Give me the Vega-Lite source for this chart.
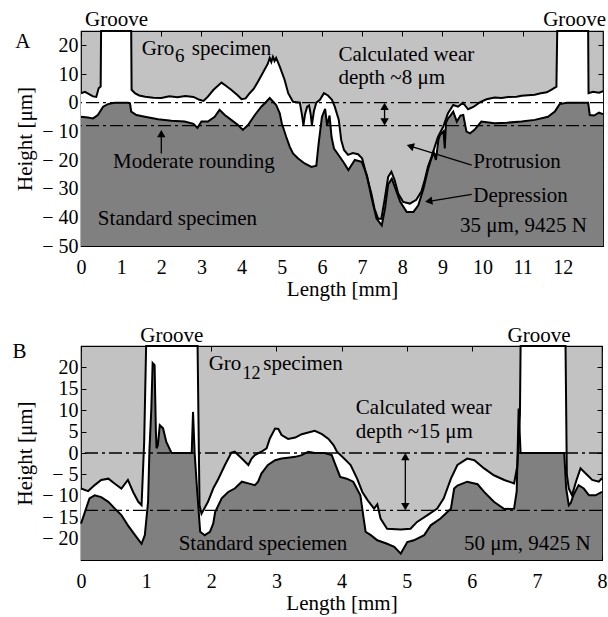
{
  "$schema": "https://vega.github.io/schema/vega-lite/v6.json",
  "background": "white",
  "padding": {"left": 12, "top": 8, "right": 2, "bottom": 2},
  "config": {
    "font": "Liberation Serif",
    "view": {"stroke": "black", "strokeWidth": 1.2, "fill": "#c2c2c2"},
    "axis": {
      "domain": false, "grid": false, "ticks": true, "tickColor": "black", "tickSize": -5, "tickWidth": 1,
      "labelFont": "Liberation Serif", "labelFontSize": 20, "labelColor": "black", "labelFlush": false, "labelOverlap": false,
      "titleFont": "Liberation Serif", "titleFontSize": 21, "titleFontWeight": "normal", "titleColor": "black"
    },
    "axisBottom": {"labelPadding": 16, "titlePadding": 1},
    "axisLeft": {"labelPadding": 8, "titlePadding": 6, "labelFontSize": 20, "labelExpr": "replace(datum.label, '−', '− ')"}
  },
  "datasets": {
    "a_gro": [
      {"x": 0, "h": 3.3}, {"x": 0.1, "h": 3.8}, {"x": 0.2, "h": 3.0}, {"x": 0.3, "h": 2.2}, {"x": 0.38, "h": 2.0}, {"x": 0.44, "h": 5.0}, {"x": 0.49, "h": 5.6},
      {"x": 0.5, "h": 25}, {"x": 1.25, "h": 25}, {"x": 1.26, "h": 4.5}, {"x": 1.35, "h": 3.2}, {"x": 1.45, "h": 2.5}, {"x": 1.6, "h": 2.1}, {"x": 1.8, "h": 1.7},
      {"x": 2.0, "h": 1.6}, {"x": 2.2, "h": 2.2}, {"x": 2.4, "h": 1.9}, {"x": 2.6, "h": 2.3}, {"x": 2.8, "h": 2.0}, {"x": 2.95, "h": 1.0}, {"x": 3.05, "h": 0.6},
      {"x": 3.16, "h": 2.1}, {"x": 3.3, "h": 4.5}, {"x": 3.5, "h": 7.0}, {"x": 3.6, "h": 6.0}, {"x": 3.74, "h": 4.5}, {"x": 3.9, "h": 2.6}, {"x": 4.0, "h": 1.2},
      {"x": 4.1, "h": 1.5}, {"x": 4.2, "h": 3.3}, {"x": 4.3, "h": 4.8}, {"x": 4.41, "h": 7.4}, {"x": 4.57, "h": 11.5}, {"x": 4.65, "h": 13.5}, {"x": 4.7, "h": 15.6},
      {"x": 4.74, "h": 14.2}, {"x": 4.78, "h": 16.0}, {"x": 4.82, "h": 14.5}, {"x": 4.86, "h": 15.6}, {"x": 4.95, "h": 12.6}, {"x": 5.07, "h": 8.0}, {"x": 5.16, "h": 3.3},
      {"x": 5.28, "h": 0.3}, {"x": 5.45, "h": 0}, {"x": 5.5, "h": -4}, {"x": 5.54, "h": -7.8}, {"x": 5.58, "h": -4}, {"x": 5.63, "h": -1.5}, {"x": 5.68, "h": -1},
      {"x": 5.72, "h": -4}, {"x": 5.75, "h": -7.8}, {"x": 5.8, "h": -3}, {"x": 5.86, "h": 0}, {"x": 5.95, "h": 1.0}, {"x": 6.05, "h": 3.3}, {"x": 6.15, "h": 2.5},
      {"x": 6.25, "h": 1.0}, {"x": 6.32, "h": -1.4}, {"x": 6.42, "h": -6}, {"x": 6.48, "h": -13}, {"x": 6.55, "h": -16.5}, {"x": 6.65, "h": -18.2}, {"x": 6.77, "h": -17.6},
      {"x": 6.9, "h": -18}, {"x": 7.0, "h": -19.4}, {"x": 7.1, "h": -24.7}, {"x": 7.23, "h": -31.7}, {"x": 7.31, "h": -37}, {"x": 7.4, "h": -40.5}, {"x": 7.48, "h": -40.5},
      {"x": 7.56, "h": -33.9}, {"x": 7.65, "h": -25.9}, {"x": 7.73, "h": -24.1}, {"x": 7.81, "h": -27}, {"x": 7.9, "h": -31.7}, {"x": 8.02, "h": -34.6}, {"x": 8.19, "h": -35.2},
      {"x": 8.35, "h": -33.9}, {"x": 8.48, "h": -30.9}, {"x": 8.56, "h": -27}, {"x": 8.64, "h": -22.4}, {"x": 8.73, "h": -18.9}, {"x": 8.81, "h": -15.4}, {"x": 8.89, "h": -11.9},
      {"x": 9.02, "h": -8.4}, {"x": 9.14, "h": -3.7}, {"x": 9.27, "h": -0.8}, {"x": 9.39, "h": -1.4}, {"x": 9.51, "h": 0}, {"x": 9.64, "h": -2.3}, {"x": 9.77, "h": -1.5},
      {"x": 9.94, "h": 0.2}, {"x": 10.1, "h": 1.2}, {"x": 10.3, "h": 1.8}, {"x": 10.47, "h": 1.6}, {"x": 10.64, "h": 2.0}, {"x": 10.85, "h": 2.1}, {"x": 10.97, "h": 2.4},
      {"x": 11.3, "h": 2.8}, {"x": 11.45, "h": 3.3}, {"x": 11.6, "h": 3.6}, {"x": 11.71, "h": 4.5}, {"x": 11.84, "h": 5.6}, {"x": 11.86, "h": 25}, {"x": 12.63, "h": 25},
      {"x": 12.64, "h": 3.3}, {"x": 12.75, "h": 3.8}, {"x": 12.9, "h": 3.5}, {"x": 13.0, "h": 4.0}
    ],
    "a_std": [
      {"x": 0, "h": -4.9}, {"x": 0.17, "h": -5.2}, {"x": 0.3, "h": -5.5}, {"x": 0.42, "h": -4.3}, {"x": 0.55, "h": -1.4}, {"x": 0.67, "h": -0.5}, {"x": 0.84, "h": 0},
      {"x": 1.17, "h": 0}, {"x": 1.22, "h": -0.2}, {"x": 1.25, "h": -3.1}, {"x": 1.38, "h": -4.3}, {"x": 1.59, "h": -4.9}, {"x": 1.92, "h": -5.8}, {"x": 2.25, "h": -6.3},
      {"x": 2.58, "h": -6.6}, {"x": 2.8, "h": -7.4}, {"x": 2.9, "h": -8.8}, {"x": 3.0, "h": -6.6}, {"x": 3.16, "h": -6.6}, {"x": 3.33, "h": -4.9}, {"x": 3.45, "h": -2.5},
      {"x": 3.58, "h": -4.3}, {"x": 3.74, "h": -6.0}, {"x": 3.91, "h": -7.8}, {"x": 4.03, "h": -9.5}, {"x": 4.16, "h": -7.8}, {"x": 4.33, "h": -4.3}, {"x": 4.49, "h": -1.4},
      {"x": 4.62, "h": 0.4}, {"x": 4.7, "h": 1.6}, {"x": 4.78, "h": 0.4}, {"x": 4.86, "h": -0.8}, {"x": 4.95, "h": -3.7}, {"x": 5.0, "h": -7.2}, {"x": 5.11, "h": -11.9},
      {"x": 5.2, "h": -15.4}, {"x": 5.28, "h": -17.7}, {"x": 5.4, "h": -19.4}, {"x": 5.57, "h": -21.2}, {"x": 5.74, "h": -22.4}, {"x": 5.86, "h": -22.0}, {"x": 5.92, "h": -14},
      {"x": 6.0, "h": -5}, {"x": 6.08, "h": -2.2}, {"x": 6.13, "h": -8}, {"x": 6.19, "h": -4.5}, {"x": 6.24, "h": -12}, {"x": 6.3, "h": -16}, {"x": 6.4, "h": -18},
      {"x": 6.53, "h": -20.6}, {"x": 6.66, "h": -23.5}, {"x": 6.75, "h": -21.5}, {"x": 6.82, "h": -20}, {"x": 6.99, "h": -20.6}, {"x": 7.12, "h": -25.3}, {"x": 7.24, "h": -33.4},
      {"x": 7.36, "h": -40.4}, {"x": 7.49, "h": -42.8}, {"x": 7.57, "h": -37}, {"x": 7.65, "h": -28.5}, {"x": 7.74, "h": -26.5}, {"x": 7.86, "h": -31.1}, {"x": 7.95, "h": -34.6},
      {"x": 8.11, "h": -38.1}, {"x": 8.28, "h": -38.1}, {"x": 8.4, "h": -35.8}, {"x": 8.53, "h": -29.9}, {"x": 8.65, "h": -22.9}, {"x": 8.78, "h": -17.1}, {"x": 8.84, "h": -20},
      {"x": 8.9, "h": -13}, {"x": 8.94, "h": -11.3}, {"x": 9.03, "h": -10}, {"x": 9.06, "h": -16}, {"x": 9.09, "h": -7}, {"x": 9.14, "h": -5.5}, {"x": 9.2, "h": -4.5},
      {"x": 9.27, "h": -3.1}, {"x": 9.36, "h": -6.6}, {"x": 9.45, "h": -4.5}, {"x": 9.52, "h": -4.3}, {"x": 9.6, "h": -10.1}, {"x": 9.69, "h": -10.7}, {"x": 9.8, "h": -9.5},
      {"x": 9.97, "h": -6.6}, {"x": 10.3, "h": -7.2}, {"x": 10.6, "h": -7.0}, {"x": 10.97, "h": -6.6}, {"x": 11.3, "h": -6.0}, {"x": 11.63, "h": -4.9}, {"x": 11.8, "h": -3.1},
      {"x": 11.92, "h": -0.5}, {"x": 12.1, "h": 0}, {"x": 12.63, "h": 0}, {"x": 12.67, "h": -4.3}, {"x": 12.78, "h": -4.5}, {"x": 12.9, "h": -3.5}, {"x": 13.0, "h": -4.0}
    ],
    "b_gro": [
      {"x": 0, "h": -8.3}, {"x": 0.11, "h": -8.9}, {"x": 0.21, "h": -7.5}, {"x": 0.31, "h": -6.3}, {"x": 0.42, "h": -6.0}, {"x": 0.52, "h": -7.2}, {"x": 0.62, "h": -8.3},
      {"x": 0.72, "h": -6.3}, {"x": 0.8, "h": -9.1}, {"x": 0.88, "h": -11.4}, {"x": 0.93, "h": -12.2}, {"x": 0.97, "h": 2.6}, {"x": 1.0, "h": 25}, {"x": 1.79, "h": 25},
      {"x": 1.82, "h": -12.2}, {"x": 1.85, "h": -14.2}, {"x": 1.95, "h": -11.4}, {"x": 2.03, "h": -8.3}, {"x": 2.11, "h": -6.0}, {"x": 2.21, "h": -2.8}, {"x": 2.31, "h": 0.1},
      {"x": 2.36, "h": 0.3}, {"x": 2.47, "h": -1.3}, {"x": 2.57, "h": -2.8}, {"x": 2.62, "h": -1.3}, {"x": 2.67, "h": -0.5}, {"x": 2.77, "h": 0.3}, {"x": 2.85, "h": 1.1},
      {"x": 2.9, "h": 3.4}, {"x": 2.98, "h": 5.7}, {"x": 3.03, "h": 5.6}, {"x": 3.08, "h": 4.2}, {"x": 3.18, "h": 3.3}, {"x": 3.29, "h": 3.6}, {"x": 3.39, "h": 4.4},
      {"x": 3.49, "h": 4.8}, {"x": 3.59, "h": 5.2}, {"x": 3.7, "h": 4.4}, {"x": 3.8, "h": 3.3}, {"x": 3.88, "h": 1.8}, {"x": 3.93, "h": 0.3}, {"x": 4.04, "h": -1.3},
      {"x": 4.14, "h": -2.8}, {"x": 4.24, "h": -6.0}, {"x": 4.32, "h": -9.1}, {"x": 4.4, "h": -11.0}, {"x": 4.5, "h": -13.0}, {"x": 4.55, "h": -12.0}, {"x": 4.6, "h": -15.3},
      {"x": 4.7, "h": -17.7}, {"x": 4.91, "h": -17.9}, {"x": 5.06, "h": -17.7}, {"x": 5.16, "h": -16.1}, {"x": 5.32, "h": -14.5}, {"x": 5.47, "h": -13.0}, {"x": 5.57, "h": -10.6},
      {"x": 5.68, "h": -6.0}, {"x": 5.78, "h": -2.8}, {"x": 5.93, "h": -1.3}, {"x": 6.04, "h": -1.7}, {"x": 6.19, "h": -3.6}, {"x": 6.34, "h": -5.2}, {"x": 6.5, "h": -6.3},
      {"x": 6.65, "h": -7.1}, {"x": 6.7, "h": -3}, {"x": 6.74, "h": 9}, {"x": 6.75, "h": 25}, {"x": 7.44, "h": 25}, {"x": 7.46, "h": -5}, {"x": 7.49, "h": -8.3},
      {"x": 7.54, "h": -9.9}, {"x": 7.6, "h": -6.7}, {"x": 7.67, "h": -3.6}, {"x": 7.75, "h": -4.8}, {"x": 7.85, "h": -6.3}, {"x": 7.95, "h": -6.7}, {"x": 8.0, "h": -5.9}
    ],
    "b_std": [
      {"x": 0, "h": -16.5}, {"x": 0.06, "h": -13.8}, {"x": 0.13, "h": -10.6}, {"x": 0.21, "h": -9.9}, {"x": 0.31, "h": -10.3}, {"x": 0.42, "h": -11.4}, {"x": 0.52, "h": -13.0},
      {"x": 0.62, "h": -14.5}, {"x": 0.72, "h": -16.9}, {"x": 0.83, "h": -19.2}, {"x": 0.93, "h": -21.2}, {"x": 0.98, "h": -19.2}, {"x": 1.03, "h": -11.4}, {"x": 1.05, "h": 0.3},
      {"x": 1.08, "h": 10.4}, {"x": 1.1, "h": 21.0}, {"x": 1.13, "h": 20.5}, {"x": 1.15, "h": 5}, {"x": 1.16, "h": 1.1}, {"x": 1.18, "h": 1.8}, {"x": 1.21, "h": 6.5},
      {"x": 1.26, "h": 5.8}, {"x": 1.31, "h": 2.6}, {"x": 1.39, "h": 0}, {"x": 1.7, "h": 0}, {"x": 1.72, "h": 9.6}, {"x": 1.745, "h": 0}, {"x": 1.78, "h": -8},
      {"x": 1.83, "h": -18.4}, {"x": 1.9, "h": -19.2}, {"x": 1.98, "h": -18.4}, {"x": 2.03, "h": -16.5}, {"x": 2.06, "h": -13.8}, {"x": 2.16, "h": -10.6}, {"x": 2.26, "h": -9.1},
      {"x": 2.36, "h": -8.3}, {"x": 2.47, "h": -6.7}, {"x": 2.57, "h": -7.1}, {"x": 2.67, "h": -7.5}, {"x": 2.72, "h": -6.7}, {"x": 2.77, "h": -4.8}, {"x": 2.87, "h": -2.8},
      {"x": 2.98, "h": -1.7}, {"x": 3.08, "h": -1.3}, {"x": 3.18, "h": -1.1}, {"x": 3.29, "h": -0.9}, {"x": 3.39, "h": -0.5}, {"x": 3.49, "h": 0.3}, {"x": 3.59, "h": 0},
      {"x": 3.74, "h": 0}, {"x": 3.85, "h": -0.5}, {"x": 3.9, "h": -2.5}, {"x": 3.98, "h": -5.6}, {"x": 4.08, "h": -6.0}, {"x": 4.18, "h": -6.7}, {"x": 4.29, "h": -9.9},
      {"x": 4.34, "h": -15.3}, {"x": 4.37, "h": -18.4}, {"x": 4.45, "h": -19.2}, {"x": 4.55, "h": -20.4}, {"x": 4.7, "h": -21.2}, {"x": 4.81, "h": -21.9}, {"x": 4.91, "h": -23.5},
      {"x": 5.01, "h": -20.8}, {"x": 5.11, "h": -20.4}, {"x": 5.27, "h": -19.2}, {"x": 5.37, "h": -16.9}, {"x": 5.52, "h": -15.3}, {"x": 5.68, "h": -13.0}, {"x": 5.73, "h": -8.3},
      {"x": 5.78, "h": -7.6}, {"x": 5.93, "h": -6.7}, {"x": 6.09, "h": -7.3}, {"x": 6.19, "h": -9.1}, {"x": 6.34, "h": -11.4}, {"x": 6.5, "h": -13.1}, {"x": 6.65, "h": -13.0},
      {"x": 6.69, "h": -9}, {"x": 6.72, "h": 10.4}, {"x": 6.75, "h": 0}, {"x": 7.42, "h": 0}, {"x": 7.45, "h": -8.3}, {"x": 7.49, "h": -12.2}, {"x": 7.52, "h": -11.7},
      {"x": 7.56, "h": -9.9}, {"x": 7.64, "h": -7.5}, {"x": 7.72, "h": -8.3}, {"x": 7.8, "h": -9.9}, {"x": 7.9, "h": -9.9}, {"x": 8.0, "h": -9.1}
    ]
  },
  "spacing": 100,
  "bounds": "flush",
  "vconcat": [
    {
      "width": 522,
      "height": 215,
      "layer": [
        {
          "data": {"name": "a_gro"},
          "mark": {"type": "area", "color": "white", "opacity": 1},
          "encoding": {
            "x": {"field": "x", "type": "quantitative", "scale": {"domain": [0, 13], "nice": false, "zero": false},
                  "axis": {"orient": "bottom", "values": [0, 1, 2, 3, 4, 5, 6, 7, 8, 9, 10, 11, 12], "title": "Length [mm]"}},
            "y": {"field": "h", "type": "quantitative", "scale": {"domain": [-50, 25], "nice": false, "zero": false},
                  "axis": {"orient": "left", "values": [-50, -40, -30, -20, -10, 0, 10, 20], "title": "Height [μm]"}},
            "y2": {"datum": -50}
          }
        },
        {
          "data": {"name": "a_std"},
          "mark": {"type": "area", "color": "#808080", "opacity": 1},
          "encoding": {
            "x": {"field": "x", "type": "quantitative", "axis": {"orient": "top", "values": [0, 1, 2, 3, 4, 5, 6, 7, 8, 9, 10, 11, 12], "labels": false, "title": null}},
            "y": {"field": "h", "type": "quantitative", "axis": {"orient": "right", "values": [-50, -40, -30, -20, -10, 0, 10, 20], "labels": false, "title": null}},
            "y2": {"datum": -50}
          }
        },
        {
          "data": {"values": [{"level": 0}, {"level": -8}]},
          "mark": {"type": "rule", "color": "black", "strokeWidth": 1.3, "strokeDash": [13, 4, 3, 4]},
          "encoding": {"y": {"field": "level", "type": "quantitative", "axis": null}}
        },
        {
          "data": {"name": "a_gro"},
          "mark": {"type": "line", "color": "black", "strokeWidth": 2},
          "encoding": {"x": {"field": "x", "type": "quantitative", "axis": null}, "y": {"field": "h", "type": "quantitative", "axis": null}}
        },
        {
          "data": {"name": "a_std"},
          "mark": {"type": "line", "color": "black", "strokeWidth": 2},
          "encoding": {"x": {"field": "x", "type": "quantitative", "axis": null}, "y": {"field": "h", "type": "quantitative", "axis": null}}
        },
        {
          "data": {"values": [
            {"x": 2.0, "y": -17.7, "x2": 2.0, "y2": -10.8},
            {"x": 7.56, "y": -1.0, "x2": 7.56, "y2": -7.0},
            {"x": 9.73, "y": -21.8, "x2": 8.2, "y2": -15.14},
            {"x": 9.73, "y": -32.0, "x2": 8.66, "y2": -34.4}
          ]},
          "mark": {"type": "rule", "color": "black", "strokeWidth": 1.3},
          "encoding": {
            "x": {"field": "x", "type": "quantitative", "axis": null}, "y": {"field": "y", "type": "quantitative", "axis": null},
            "x2": {"field": "x2"}, "y2": {"field": "y2"}
          }
        },
        {
          "data": {"values": [{"x": 2.0, "y": -10.77}, {"x": 7.56, "y": -1.27}]},
          "mark": {"type": "point", "shape": "triangle-up", "filled": true, "color": "black", "opacity": 1, "size": 70},
          "encoding": {"x": {"field": "x", "type": "quantitative", "axis": null}, "y": {"field": "y", "type": "quantitative", "axis": null}}
        },
        {
          "data": {"values": [{"x": 7.56, "y": -6.73}]},
          "mark": {"type": "point", "shape": "triangle-down", "filled": true, "color": "black", "opacity": 1, "size": 70},
          "encoding": {"x": {"field": "x", "type": "quantitative", "axis": null}, "y": {"field": "y", "type": "quantitative", "axis": null}}
        },
        {
          "data": {"values": [{"x": 8.2, "y": -15.14}]},
          "mark": {"type": "point", "shape": "triangle-up", "filled": true, "color": "black", "opacity": 1, "size": 70, "angle": 287},
          "encoding": {"x": {"field": "x", "type": "quantitative", "axis": null}, "y": {"field": "y", "type": "quantitative", "axis": null}}
        },
        {
          "data": {"values": [{"x": 8.66, "y": -34.4}]},
          "mark": {"type": "point", "shape": "triangle-up", "filled": true, "color": "black", "opacity": 1, "size": 70, "angle": 261},
          "encoding": {"x": {"field": "x", "type": "quantitative", "axis": null}, "y": {"field": "y", "type": "quantitative", "axis": null}}
        },
        {
          "data": {"values": [
            {"x": -1.64, "y": 19.05, "t": "A"},
            {"x": 0.1, "y": 26.65, "t": "Groove"},
            {"x": 11.51, "y": 26.65, "t": "Groove"},
            {"x": 1.51, "y": 16.8, "t": "Gro"},
            {"x": 2.76, "y": 16.8, "t": "specimen"},
            {"x": 6.41, "y": 14.4, "t": "Calculated wear"},
            {"x": 6.41, "y": 6.46, "t": "depth ~8 μm"},
            {"x": 0.8, "y": -22.9, "t": "Moderate rounding"},
            {"x": 0.42, "y": -42.8, "t": "Standard specimen"},
            {"x": 9.77, "y": -22.9, "t": "Protrusion"},
            {"x": 9.77, "y": -34.6, "t": "Depression"},
            {"x": 9.44, "y": -45.1, "t": "35 μm, 9425 N"}
          ]},
          "mark": {"type": "text", "align": "left", "baseline": "alphabetic", "fontSize": 21, "color": "black"},
          "encoding": {"x": {"field": "x", "type": "quantitative", "axis": null}, "y": {"field": "y", "type": "quantitative", "axis": null}, "text": {"field": "t"}}
        },
        {
          "data": {"values": [{"x": 2.34, "y": 14.05, "t": "6"}]},
          "mark": {"type": "text", "align": "left", "baseline": "alphabetic", "fontSize": 19, "color": "black"},
          "encoding": {"x": {"field": "x", "type": "quantitative", "axis": null}, "y": {"field": "y", "type": "quantitative", "axis": null}, "text": {"field": "t"}}
        }
      ]
    },
    {
      "width": 521,
      "height": 214,
      "layer": [
        {
          "data": {"name": "b_gro"},
          "mark": {"type": "area", "color": "white", "opacity": 1},
          "encoding": {
            "x": {"field": "x", "type": "quantitative", "scale": {"domain": [0, 8], "nice": false, "zero": false},
                  "axis": {"orient": "bottom", "values": [0, 1, 2, 3, 4, 5, 6, 7, 8], "title": "Length [mm]"}},
            "y": {"field": "h", "type": "quantitative", "scale": {"domain": [-25, 25], "nice": false, "zero": false},
                  "axis": {"orient": "left", "values": [-20, -15, -10, -5, 0, 5, 10, 15, 20], "title": "Height [μm]"}},
            "y2": {"datum": -25}
          }
        },
        {
          "data": {"name": "b_std"},
          "mark": {"type": "area", "color": "#808080", "opacity": 1},
          "encoding": {
            "x": {"field": "x", "type": "quantitative", "axis": {"orient": "top", "values": [0, 1, 2, 3, 4, 5, 6, 7, 8], "labels": false, "title": null}},
            "y": {"field": "h", "type": "quantitative", "axis": {"orient": "right", "values": [-20, -15, -10, -5, 0, 5, 10, 15, 20], "labels": false, "title": null}},
            "y2": {"datum": -25}
          }
        },
        {
          "data": {"values": [{"level": 0}, {"level": -13.4}]},
          "mark": {"type": "rule", "color": "black", "strokeWidth": 1.3, "strokeDash": [13, 4, 3, 4]},
          "encoding": {"y": {"field": "level", "type": "quantitative", "axis": null}}
        },
        {
          "data": {"name": "b_gro"},
          "mark": {"type": "line", "color": "black", "strokeWidth": 2},
          "encoding": {"x": {"field": "x", "type": "quantitative", "axis": null}, "y": {"field": "h", "type": "quantitative", "axis": null}}
        },
        {
          "data": {"name": "b_std"},
          "mark": {"type": "line", "color": "black", "strokeWidth": 2},
          "encoding": {"x": {"field": "x", "type": "quantitative", "axis": null}, "y": {"field": "h", "type": "quantitative", "axis": null}}
        },
        {
          "data": {"values": [{"x": 4.98, "y": -0.8, "x2": 4.98, "y2": -12.6}]},
          "mark": {"type": "rule", "color": "black", "strokeWidth": 1.3},
          "encoding": {
            "x": {"field": "x", "type": "quantitative", "axis": null}, "y": {"field": "y", "type": "quantitative", "axis": null},
            "x2": {"field": "x2"}, "y2": {"field": "y2"}
          }
        },
        {
          "data": {"values": [{"x": 4.98, "y": -0.85}]},
          "mark": {"type": "point", "shape": "triangle-up", "filled": true, "color": "black", "opacity": 1, "size": 70},
          "encoding": {"x": {"field": "x", "type": "quantitative", "axis": null}, "y": {"field": "y", "type": "quantitative", "axis": null}}
        },
        {
          "data": {"values": [{"x": 4.98, "y": -12.55}]},
          "mark": {"type": "point", "shape": "triangle-down", "filled": true, "color": "black", "opacity": 1, "size": 70},
          "encoding": {"x": {"field": "x", "type": "quantitative", "axis": null}, "y": {"field": "y", "type": "quantitative", "axis": null}}
        },
        {
          "data": {"values": [
            {"x": -1.05, "y": 22.1, "t": "B"},
            {"x": 0.91, "y": 25.85, "t": "Groove"},
            {"x": 6.55, "y": 25.85, "t": "Groove"},
            {"x": 1.96, "y": 19.3, "t": "Gro"},
            {"x": 2.8, "y": 19.3, "t": "specimen"},
            {"x": 4.22, "y": 9.0, "t": "Calculated wear"},
            {"x": 4.22, "y": 3.4, "t": "depth ~15 μm"},
            {"x": 1.5, "y": -22.7, "t": "Standard speciemen"},
            {"x": 5.88, "y": -22.7, "t": "50 μm, 9425 N"}
          ]},
          "mark": {"type": "text", "align": "left", "baseline": "alphabetic", "fontSize": 21, "color": "black"},
          "encoding": {"x": {"field": "x", "type": "quantitative", "axis": null}, "y": {"field": "y", "type": "quantitative", "axis": null}, "text": {"field": "t"}}
        },
        {
          "data": {"values": [{"x": 2.48, "y": 17.4, "t": "12"}]},
          "mark": {"type": "text", "align": "left", "baseline": "alphabetic", "fontSize": 18, "color": "black"},
          "encoding": {"x": {"field": "x", "type": "quantitative", "axis": null}, "y": {"field": "y", "type": "quantitative", "axis": null}, "text": {"field": "t"}}
        }
      ]
    }
  ]
}
